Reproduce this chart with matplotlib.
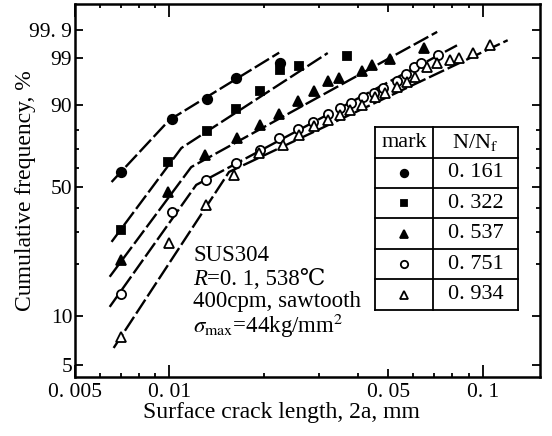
import numpy as np
import matplotlib
matplotlib.use("Agg")
import matplotlib.pyplot as plt
from matplotlib.ticker import FixedLocator, FixedFormatter, NullFormatter
from matplotlib.lines import Line2D

plt.rcParams['font.family'] = ['Liberation Serif', 'DejaVu Serif', 'Noto Sans CJK JP']
plt.rcParams['mathtext.fontset'] = 'stix'
plt.rcParams['lines.scale_dashes'] = False

# ---------------- data ----------------
ratio_labels = ["0. 161", "0. 322", "0. 537", "0. 751", "0. 934"]

# N/Nf = 0.161
crack_161 = [0.0070, 0.0102, 0.0132, 0.0163, 0.0225]
freq_161 = [57.9, 84.7, 91.9, 96.7, 98.6]
fit_crack_161 = [0.00654, 0.0100, 0.0224]
fit_freq_161 = [52.6, 84.3, 99.3]

# N/Nf = 0.322
crack_322 = [0.0070, 0.0099, 0.0132, 0.0163, 0.0195, 0.0225, 0.0259, 0.0370]
freq_322 = [30.9, 63.2, 79.3, 88.6, 94.1, 97.9, 98.3, 99.1]
fit_crack_322 = [0.00654, 0.01092, 0.0320]
fit_freq_322 = [26.7, 70.7, 99.28]

# N/Nf = 0.537
crack_537 = [0.0070, 0.0099, 0.0130, 0.0164, 0.0195, 0.0224, 0.0257, 0.0289,
             0.0320, 0.0347, 0.0413, 0.0444, 0.0507, 0.0650]
freq_537 = [21.2, 47.5, 67.0, 75.9, 82.1, 86.7, 91.3, 94.1,
            96.2, 96.7, 97.75, 98.4, 98.9, 99.5]
fit_crack_537 = [0.00645, 0.01174, 0.0715]
fit_freq_537 = [17.0, 60.5, 99.88]

# N/Nf = 0.751
crack_751 = [0.0070, 0.0102, 0.0131, 0.0163, 0.0195, 0.0224, 0.0257, 0.0287,
             0.0320, 0.0349, 0.0381, 0.0416, 0.0448, 0.0481, 0.0533, 0.0570,
             0.0604, 0.0636, 0.0720]
freq_751 = [13.5, 38.2, 53.6, 62.7, 69.6, 75.9, 80.3, 83.4,
            86.7, 89.0, 90.7, 92.5, 93.6, 94.8, 96.2, 97.35,
            98.2, 98.6, 99.2]
fit_crack_751 = [0.00645, 0.01218, 0.0827]
fit_freq_751 = [11.3, 51.1, 99.6]

# N/Nf = 0.934
crack_934 = [0.0070, 0.0100, 0.0131, 0.0161, 0.0193, 0.0230, 0.0259, 0.0289,
             0.0320, 0.0349, 0.0376, 0.0413, 0.0454, 0.0489, 0.0533, 0.0574,
             0.0608, 0.0664, 0.0715, 0.0786, 0.0839, 0.0930, 0.1052]
freq_934 = [7.43, 26.3, 41.3, 56.3, 68.05, 72.3, 77.4, 81.6,
            84.3, 86.4, 88.3, 90.0, 92.5, 93.6, 95.0, 96.0,
            96.9, 98.2, 98.6, 98.84, 98.98, 99.28, 99.6]
fit_crack_934 = [0.00664, 0.0155, 0.120]
fit_freq_934 = [6.36, 57.9, 99.74]

x_major = [0.005, 0.01, 0.05, 0.1]
x_major_labels = ["0. 005", "0. 01", "0. 05", "0. 1"]
x_minor = [0.006, 0.007, 0.008, 0.009, 0.02, 0.03, 0.04, 0.06, 0.07, 0.08, 0.09]
y_major = [5, 10, 50, 90, 99, 99.9]
y_major_labels = ["5", "10", "50", "90", "99", "99. 9"]
y_minor = [20, 30, 40, 60, 70, 80]

# ---------------- Weibull probability scale ----------------
def weibull_fwd(p):
    p = np.clip(np.asarray(p, dtype=float), 1e-6, 100 - 1e-9)
    return np.log(-np.log(1.0 - p / 100.0))


def weibull_inv(w):
    w = np.asarray(w, dtype=float)
    return 100.0 * (1.0 - np.exp(-np.exp(w)))


fig = plt.figure(figsize=(5.52, 4.36), dpi=100)
ax = fig.add_axes([0.1359, 0.1353, 0.8421, 0.8555])
ax.set_xscale('log')
ax.set_yscale('function', functions=(weibull_fwd, weibull_inv))
ax.set_xlim(0.005, 0.152)
ax.set_ylim(weibull_inv(-3.148), weibull_inv(2.314))

series = [
    (crack_161, freq_161, fit_crack_161, fit_freq_161, 'o', 'k', 6.8),
    (crack_322, freq_322, fit_crack_322, fit_freq_322, 's', 'k', 6.2),
    (crack_537, freq_537, fit_crack_537, fit_freq_537, '^', 'k', 7.8),
    (crack_751, freq_751, fit_crack_751, fit_freq_751, 'o', 'w', 6.6),
    (crack_934, freq_934, fit_crack_934, fit_freq_934, '^', 'w', 7.8),
]

for cx, cy, fx, fy, mk, fc, ms in series:
    ax.plot(fx, fy, color='k', lw=1.7, dashes=(12, 2.8), zorder=2)
    ax.plot(cx, cy, linestyle='none', marker=mk, ms=ms, mfc=fc, mec='k',
            mew=1.3, zorder=3)

# ---------------- axes styling ----------------
for sp in ax.spines.values():
    sp.set_linewidth(1.8)

fs = 15.5
fs_lab = 17
fs_note = 16.5
ax.xaxis.set_major_locator(FixedLocator(x_major))
ax.xaxis.set_major_formatter(FixedFormatter(x_major_labels))
ax.xaxis.set_minor_locator(FixedLocator(x_minor))
ax.xaxis.set_minor_formatter(NullFormatter())
ax.yaxis.set_major_locator(FixedLocator(y_major))
ax.yaxis.set_major_formatter(FixedFormatter(y_major_labels))
ax.yaxis.set_minor_locator(FixedLocator(y_minor))
ax.yaxis.set_minor_formatter(NullFormatter())

ax.tick_params(which='both', direction='in', top=True, right=True,
               width=1.3, labelsize=fs, colors='k')
ax.tick_params(axis='x', which='major', length=9, pad=4)
ax.tick_params(axis='y', which='major', length=6, pad=2)
ax.tick_params(which='minor', length=3)

# individual x tick lengths: 0.05 shorter than decades
for t, v in zip(ax.xaxis.get_major_ticks(), x_major):
    if v == 0.05:
        t.tick1line.set_markersize(6)
        t.tick2line.set_markersize(6)

ax.set_xlabel("Surface crack length, 2a, mm", fontsize=fs_lab)
ax.xaxis.set_label_coords(0.445, -0.066)
ax.set_ylabel("Cumulative frequency, %", fontsize=fs_lab)
ax.yaxis.set_label_coords(-0.085, 0.5)

# ---------------- test condition text ----------------
tx = 0.254
ax.text(tx, 0.310, "SUS304", transform=ax.transAxes, fontsize=fs_note,
        va='baseline', ha='left')
t_r = ax.text(tx, 0.248, "R", transform=ax.transAxes, fontsize=fs_note,
              style='italic', va='baseline', ha='left')
ax.annotate("=0. 1, 538℃", xy=(1, 0), xycoords=t_r, fontsize=fs_note,
            va='bottom', ha='left')
ax.text(tx, 0.188, "400cpm, sawtooth", transform=ax.transAxes,
        fontsize=fs_note, va='baseline', ha='left')
ax.text(tx, 0.118, r"$\sigma_{\mathrm{max}}$=44kg/mm$^{2}$",
        transform=ax.transAxes, fontsize=fs_note, va='baseline', ha='left')

# ---------------- legend table ----------------
x0, x1, x2 = 0.645, 0.770, 0.953
y_top, y_bot = 0.670, 0.180
nrows = 6
rh = (y_top - y_bot) / nrows
lw_tab = 1.3
for i in range(nrows + 1):
    yy = y_top - i * rh
    ax.add_line(Line2D([x0, x2], [yy, yy], transform=ax.transAxes,
                       color='k', lw=lw_tab, zorder=4))
for xx in (x0, x1, x2):
    ax.add_line(Line2D([xx, xx], [y_bot, y_top], transform=ax.transAxes,
                       color='k', lw=lw_tab, zorder=4))
ax.fill_between([x0, x2], y_bot, y_top, transform=ax.transAxes,
                color='w', zorder=3.5)

cx1 = (x0 + x1) / 2
cx2 = (x1 + x2) / 2
ax.text(cx1, y_top - rh / 2, "mark", transform=ax.transAxes, fontsize=16,
        ha='center', va='center', zorder=5)
ax.text(cx2, y_top - rh / 2, r"N/N$_{\mathrm{f}}$", transform=ax.transAxes,
        fontsize=16, ha='center', va='center', zorder=5)
for i, (s, lab) in enumerate(zip(series, ratio_labels)):
    yc = y_top - (i + 1.5) * rh
    mk, fc = s[4], s[5]
    ax.plot([cx1], [yc], transform=ax.transAxes, marker=mk,
            ms=s[6] * 0.8, mfc=fc, mec='k', mew=1.3, linestyle='none',
            zorder=5, clip_on=False)
    ax.text(cx2, yc, lab, transform=ax.transAxes, fontsize=16,
            ha='center', va='center', zorder=5)

fig.savefig("out.png", dpi=100)
